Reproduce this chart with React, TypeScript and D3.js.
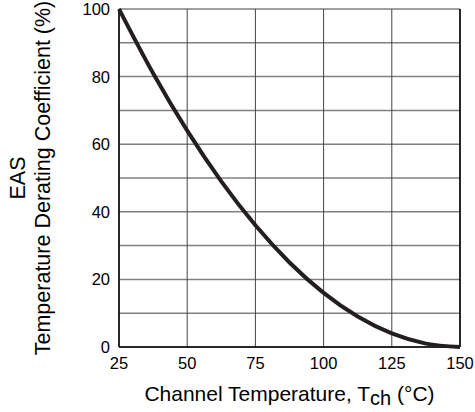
import React from "react";
import { scaleLinear, line, curveMonotoneX } from "d3";

// values
const temps = [25, 37.5, 50, 62.5, 75, 87.5, 100, 112.5, 125, 137.5, 150];
const coeffs = [100, 81, 64, 49, 36, 25, 16, 9, 4, 1, 0];
const xTicks = [25, 50, 75, 100, 125, 150];
const yTicks = [0, 20, 40, 60, 80, 100];
const yGrid = [0, 10, 20, 30, 40, 50, 60, 70, 80, 90, 100];

function App() {
  const width = 475,
    height = 412,
    margin = { top: 9, right: 15, bottom: 65, left: 119 },
    innerWidth = width - margin.left - margin.right,
    innerHeight = height - margin.top - margin.bottom,
    x = scaleLinear().domain([25, 150]).range([0, innerWidth]),
    y = scaleLinear().domain([0, 100]).range([innerHeight, 0]),
    path = line<number>()
      .x((d, i) => x(temps[i]))
      .y((d) => y(d))
      .curve(curveMonotoneX)(coeffs);

  const font = "'Liberation Sans', Arial, sans-serif";

  return (
    <svg
      width={width}
      height={height}
      style={{ position: "absolute", left: 0, top: 0, background: "#fff" }}
      fontFamily={font}
    >
      <g transform={`translate(${margin.left},${margin.top})`}>
        {yGrid.map((v) => (
          <line
            key={"h" + v}
            x1={0}
            x2={innerWidth}
            y1={y(v)}
            y2={y(v)}
            stroke="#808080"
            strokeWidth={1.5}
          />
        ))}
        {xTicks.map((v) => (
          <line
            key={"v" + v}
            x1={x(v)}
            x2={x(v)}
            y1={0}
            y2={innerHeight}
            stroke="#444"
            strokeWidth={1}
          />
        ))}
        <line x1={0} x2={0} y1={0} y2={innerHeight} stroke="#000" strokeWidth={1.5} />
        <line x1={0} x2={innerWidth} y1={innerHeight} y2={innerHeight} stroke="#000" strokeWidth={1.5} />
        <line x1={innerWidth} x2={innerWidth} y1={0} y2={innerHeight} stroke="#000" strokeWidth={1.5} />

        <path d={path || ""} fill="none" stroke="#231f20" strokeWidth={4} />

        {yTicks.map((v) => (
          <text key={"yt" + v} x={-9} y={y(v)} dy=".36em" textAnchor="end" fontSize={16.5}>
            {v}
          </text>
        ))}
        {xTicks.map((v) => (
          <text key={"xt" + v} x={x(v)} y={innerHeight + 22} textAnchor="middle" fontSize={16.5}>
            {v}
          </text>
        ))}

        <text x={innerWidth / 2} y={innerHeight + 54} textAnchor="middle" fontSize={21}>
          Channel Temperature, T
          <tspan dy={4} fontSize={20}>ch</tspan>
          <tspan dy={-4}> (°C)</tspan>
        </text>

        <text
          textAnchor="middle"
          fontSize={21.5}
          transform={`translate(${-94},${innerHeight / 2}) rotate(-90)`}
        >
          EAS
        </text>
        <text
          textAnchor="middle"
          fontSize={21.5}
          transform={`translate(${-69},${innerHeight / 2}) rotate(-90)`}
        >
          Temperature Derating Coefficient (%)
        </text>
      </g>
    </svg>
  );
}

export default App;
